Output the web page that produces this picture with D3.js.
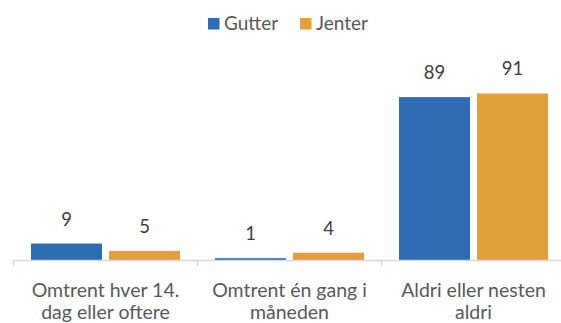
<!DOCTYPE html>
<html>
<head>
<meta charset="utf-8">
<script src="https://cdn.jsdelivr.net/npm/d3@7"></script>
<style>
  html, body { margin: 0; padding: 0; background: #fff; }
  svg { display: block; font-family: Lato, "Open Sans", sans-serif; }
</style>
</head>
<body>
<svg id="chart" width="561" height="323"></svg>
<script>
// Survey answers, percent per group
const categories = [
  ["Omtrent hver 14.", "dag eller oftere"],
  ["Omtrent én gang i", "måneden"],
  ["Aldri eller nesten", "aldri"]
];
const series = ["Gutter", "Jenter"];
const gutter = [9, 1, 89];
const jenter = [5, 4, 91];
const colors = ["#2E6DB4", "#E1A03A"];

const values = [gutter, jenter];
const svg = d3.select("#chart");
const catKeys = categories.map((c, i) => i);

const x0 = d3.scaleBand().domain(catKeys).range([13.5, 565.5]).padding(0);
const x1 = d3.scaleBand().domain(series).range([17.5, x0.bandwidth() - 17.5]).paddingInner(0.09);
const y = d3.scaleLinear().domain([0, 100]).range([260, 77]);

const textColor = "#595959";

// Bars and value labels
const groups = svg.selectAll("g.cat").data(catKeys).join("g")
  .attr("class", "cat")
  .attr("transform", d => `translate(${x0(d)},0)`);

series.forEach((s, si) => {
  groups.append("rect")
    .attr("x", x1(s))
    .attr("y", i => y(values[si][i]))
    .attr("width", x1.bandwidth())
    .attr("height", i => y(0) - y(values[si][i]))
    .attr("fill", colors[si]);
  groups.append("text")
    .attr("x", x1(s) + x1.bandwidth() / 2)
    .attr("y", i => y(values[si][i]) - 18)
    .attr("text-anchor", "middle")
    .attr("font-size", 18.5)
    .attr("fill", "#404040")
    .text(i => values[si][i]);
});

// Category axis
const axis = svg.append("g").attr("transform", `translate(0,${y(0)})`);
axis.append("line")
  .attr("x1", 13.5).attr("x2", 561)
  .attr("y1", 0.5).attr("y2", 0.5)
  .attr("stroke", "#d9d9d9").attr("stroke-width", 1.5);
axis.selectAll("line.tick").data(catKeys).join("line")
  .attr("class", "tick")
  .attr("x1", d => x0(d)).attr("x2", d => x0(d))
  .attr("y1", 0).attr("y2", 6)
  .attr("stroke", "#d9d9d9").attr("stroke-width", 1.5);

const labels = axis.selectAll("text.cat").data(catKeys).join("text")
  .attr("class", "cat")
  .attr("x", d => x0(d) + x0.bandwidth() / 2)
  .attr("text-anchor", "middle")
  .attr("font-size", 19.5)
  .attr("fill", textColor);
labels.selectAll("tspan").data(d => categories[d]).join("tspan")
  .attr("x", function () { return this.parentNode.getAttribute("x"); })
  .attr("y", (d, i) => 36.5 + i * 22.5)
  .text(d => d);

// Legend
const legend = svg.append("g").attr("transform", "translate(208,0)");
const legendX = [0, 92];
series.forEach((s, i) => {
  legend.append("rect")
    .attr("x", legendX[i]).attr("y", 18)
    .attr("width", 11.5).attr("height", 11.5)
    .attr("fill", colors[i]);
  legend.append("text")
    .attr("x", legendX[i] + 16).attr("y", 30)
    .attr("font-size", 19)
    .attr("fill", textColor)
    .text(s);
});
</script>
</body>
</html>
